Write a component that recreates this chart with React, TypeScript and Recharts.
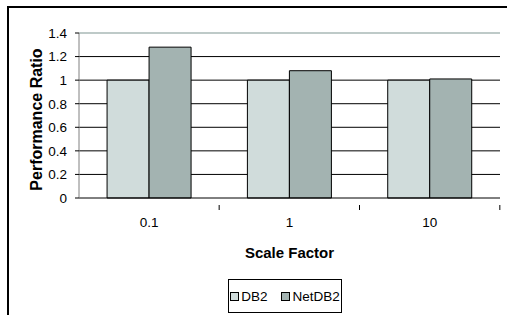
import { BarChart, Bar, XAxis, YAxis, CartesianGrid, ReferenceLine } from 'recharts';

const scaleFactors = ['0.1', '1', '10'];
const db2Values = [1, 1, 1];
const netDb2Values = [1.28, 1.08, 1.01];
const yTicks = [0, 0.2, 0.4, 0.6, 0.8, 1, 1.2, 1.4];

const seriesNames = ['DB2', 'NetDB2'];
const seriesColors = ['#D0DCDB', '#A3B3B1'];

const data = scaleFactors.map((sf, i) => ({
  sf,
  db2: db2Values[i],
  net: netDb2Values[i],
}));

const FONT = '"Liberation Sans", Arial, sans-serif';
const BORDER_GRAY = '#A9B8B6';
const HALF_BAND = 70;

function XTick({ x, y, payload }: { x?: number; y?: number; payload?: { value: string } }) {
  const cx = x ?? 0;
  const cy = y ?? 0;
  return (
    <g>
      <line x1={cx + HALF_BAND} x2={cx + HALF_BAND} y1={cy - 1} y2={cy + 4} stroke="#000" />
      <text x={cx} y={cy + 21} textAnchor="middle" fontSize={13.5} fill="#000" fontFamily={FONT}>
        {payload?.value}
      </text>
    </g>
  );
}

function YLabel({ viewBox }: { viewBox?: { x: number; y: number; height: number } }) {
  if (!viewBox) return null;
  const x = 42;
  const y = viewBox.y + viewBox.height / 2 + 4;
  return (
    <text
      x={x}
      y={y}
      transform={`rotate(-90, ${x}, ${y})`}
      textAnchor="middle"
      fontSize={16}
      fontWeight="bold"
      fill="#000"
      fontFamily={FONT}
    >
      Performance Ratio
    </text>
  );
}

export default function App() {
  return (
    <div style={{ position: 'absolute', left: 0, top: 0, width: 507, height: 315, background: '#fff', fontFamily: FONT }}>
      <div
        style={{
          position: 'absolute',
          left: 7,
          top: 6,
          right: 0,
          bottom: 0,
          borderTop: '2px solid #000',
          borderLeft: '2px solid #000',
        }}
      />
      <div style={{ position: 'absolute', left: 0, top: 0 }}>
        <BarChart
          width={507}
          height={315}
          data={data}
          margin={{ top: 33, right: 7, left: 0, bottom: 60 }}
          barCategoryGap="20%"
          barGap={0}
        >
          <CartesianGrid vertical={false} stroke="#000" horizontalValues={[0.2, 0.4, 0.6, 0.8, 1, 1.2]} />
          <ReferenceLine y={1.4} stroke={BORDER_GRAY} strokeWidth={1.5} />
          <XAxis
            dataKey="sf"
            height={57}
            axisLine={{ stroke: '#000' }}
            tickLine={false}
            tick={<XTick />}
            label={{
              value: 'Scale Factor',
              position: 'insideBottom',
              offset: -3,
              fontSize: 15,
              fontWeight: 'bold',
              fill: '#000',
              fontFamily: FONT,
            }}
          />
          <YAxis
            yAxisId={0}
            width={79}
            domain={[0, 1.4]}
            ticks={yTicks}
            interval={0}
            tickSize={4}
            tickMargin={8}
            axisLine={{ stroke: '#808080' }}
            tickLine={{ stroke: '#000' }}
            tick={{ fontSize: 13.5, fill: '#000', fontFamily: FONT }}
            tickFormatter={(v: number) => String(v)}
            label={<YLabel />}
          />
          <YAxis
            yAxisId="r"
            orientation="right"
            width={0}
            domain={[0, 1.4]}
            tick={false}
            tickLine={false}
            axisLine={{ stroke: BORDER_GRAY, strokeWidth: 1.5 }}
          />
          <Bar dataKey="db2" name={seriesNames[0]} fill={seriesColors[0]} stroke="#000" strokeWidth={1} isAnimationActive={false} />
          <Bar dataKey="net" name={seriesNames[1]} fill={seriesColors[1]} stroke="#000" strokeWidth={1} isAnimationActive={false} />
        </BarChart>
      </div>
      <div
        style={{
          position: 'absolute',
          left: 228,
          top: 279,
          width: 114,
          height: 34,
          border: '1px solid #000',
          display: 'flex',
          alignItems: 'center',
          justifyContent: 'center',
          gap: 14,
          fontSize: 13.5,
          boxSizing: 'border-box',
        }}
      >
        {seriesNames.map((name, i) => (
          <div key={name} style={{ display: 'flex', alignItems: 'center', gap: 2 }}>
            <span
              style={{
                display: 'inline-block',
                width: 7,
                height: 7,
                background: seriesColors[i],
                border: '1px solid #000',
              }}
            />
            <span>{name}</span>
          </div>
        ))}
      </div>
    </div>
  );
}
